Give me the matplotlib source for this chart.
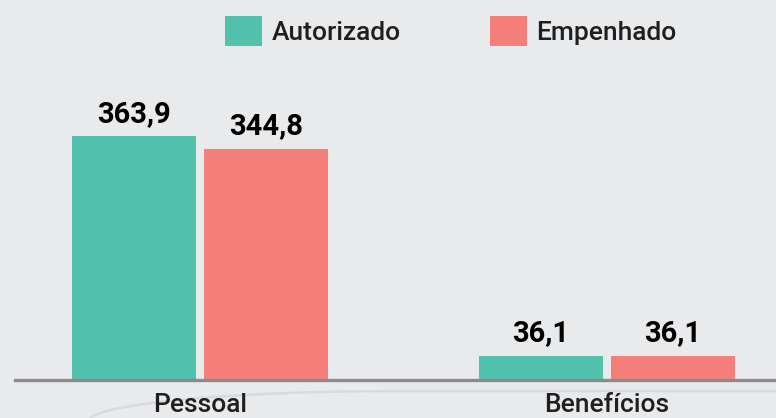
import matplotlib
matplotlib.use("Agg")
import matplotlib.pyplot as plt
from matplotlib.lines import Line2D
import numpy as np

categories = ["Pessoal", "Benefícios"]
series_names = ["Autorizado", "Empenhado"]
autorizado = [363.9, 36.1]
empenhado = [344.8, 36.1]
value_labels_aut = ["363,9", "36,1"]
value_labels_emp = ["344,8", "36,1"]

BG = "#e9eaec"
TEAL = "#52c2ad"
SALMON = "#f47f7a"
TEXT = "#1f1f1f"

plt.rcParams["font.family"] = ["Roboto", "DejaVu Sans"]

W, H = 776, 418
fig = plt.figure(figsize=(W / 100, H / 100), dpi=100, facecolor=BG)

# faint decorative curve along the bottom edge (pixel units, origin bottom-left)
t = np.linspace(np.pi, np.pi / 2, 120)
cx, cy, a, b = 400.0, -3.4, 312.0, 30.4
curve_x = np.concatenate([cx + a * np.cos(t), [W]])
curve_y = np.concatenate([cy + b * np.sin(t), [cy + b]])
fig.add_artist(Line2D(curve_x / W, curve_y / H, transform=fig.transFigure,
                      color="#d9dadd", lw=1.8, zorder=0))

base_px = 380
top_px = 60
ax = fig.add_axes([0, (H - base_px) / H, 1, (base_px - top_px) / H])
ax.set_facecolor("none")

x = np.arange(len(categories))
px_per_unit = 407.0
bw = 124 / px_per_unit
off = 66 / px_per_unit
ax.set_xlim(-200 / px_per_unit, (W - 200) / px_per_unit)
ymax = 363.9 * (base_px - top_px) / (base_px - 136)
ax.set_ylim(0, ymax)

b1 = ax.bar(x - off, autorizado, bw, color=TEAL, label=series_names[0], zorder=2)
b2 = ax.bar(x + off, empenhado, bw, color=SALMON, label=series_names[1], zorder=2)

for bars, labels in ((b1, value_labels_aut), (b2, value_labels_emp)):
    for rect, lab in zip(bars, labels):
        ax.annotate(lab, (rect.get_x() + rect.get_width() / 2, rect.get_height()),
                    xytext=(0, 6), textcoords="offset points", ha="center", va="bottom",
                    fontsize=21, fontweight="bold", color="black", clip_on=False)

ax.axhline(0, xmin=15 / W, xmax=1, color="#8b8b8f", lw=2.4, zorder=3, clip_on=False)

for s in ax.spines.values():
    s.set_visible(False)
ax.set_yticks([])
ax.set_xticks(x)
ax.set_xticklabels(categories, fontsize=19, fontweight="medium", color=TEXT)
ax.tick_params(axis="x", length=0, pad=9)

leg = fig.legend(handles=[b1, b2], labels=series_names, loc="upper center",
                 bbox_to_anchor=(0.581, 1.0), ncol=2, frameon=False,
                 fontsize=19, handlelength=1.4, handleheight=1.4,
                 handletextpad=0.35, columnspacing=3.4, borderaxespad=0.2)
for t in leg.get_texts():
    t.set_color(TEXT)
    t.set_fontweight("medium")

fig.savefig("out.png", dpi=100, facecolor=BG)
